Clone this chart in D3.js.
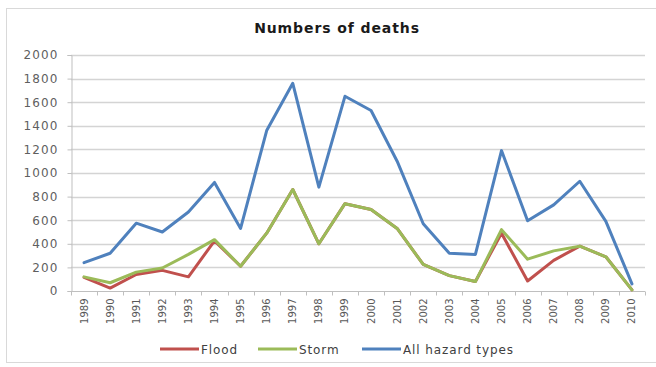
<!DOCTYPE html>
<html>
<head>
<meta charset="utf-8">
<script src="https://cdn.jsdelivr.net/npm/d3@7/dist/d3.min.js"></script>
<style>
  html, body { margin: 0; padding: 0; background: #fff; }
  svg { display: block; }
  text { font-family: "DejaVu Sans", "Open Sans", sans-serif; }
</style>
</head>
<body>
<svg id="chart" width="656" height="367"></svg>
<script>
// Deaths per year by hazard type, 1989–2010
const years = ["1989","1990","1991","1992","1993","1994","1995","1996","1997","1998","1999",
               "2000","2001","2002","2003","2004","2005","2006","2007","2008","2009","2010"];
const flood = [115, 25, 140, 175, 120, 425, 210, 490, 860, 400, 740,
               690, 530, 225, 130, 80, 490, 85, 260, 380, 290, 10];
const storm = [120, 70, 160, 195, 310, 435, 210, 490, 860, 400, 740,
               690, 530, 225, 130, 80, 520, 270, 340, 380, 290, 10];
const allHazards = [240, 320, 575, 500, 670, 920, 530, 1360, 1760, 880, 1650,
                    1530, 1100, 570, 320, 310, 1190, 595, 730, 930, 590, 60];
const yTicks = [0, 200, 400, 600, 800, 1000, 1200, 1400, 1600, 1800, 2000];

const series = [
  { name: "Flood", values: flood, color: "#c0504d" },
  { name: "Storm", values: storm, color: "#9bbb59" },
  { name: "All hazard types", values: allHazards, color: "#4f81bd" }
];

const svg = d3.select("#chart");

// chart area frame
svg.append("rect")
  .attr("x", 6.5).attr("y", 8.5).attr("width", 660).attr("height", 354)
  .attr("fill", "#fff").attr("stroke", "#d9d9d9").attr("stroke-width", 1);

const plot = { left: 71, right: 645, top: 55, bottom: 291 };

const x = d3.scaleBand().domain(years).range([plot.left, plot.right]).padding(0);
const y = d3.scaleLinear().domain([0, 2000]).range([plot.bottom, plot.top]);

// title
svg.append("text")
  .attr("x", 337).attr("y", 33)
  .attr("text-anchor", "middle")
  .attr("font-size", 14).attr("font-weight", "bold").attr("fill", "#1a1a1a")
  .attr("letter-spacing", 0.9)
  .text("Numbers of deaths");

// horizontal gridlines
svg.append("g").selectAll("line").data(yTicks.filter(d => d > 0)).join("line")
  .attr("x1", plot.left).attr("x2", plot.right)
  .attr("y1", d => Math.round(y(d)) + 0.5).attr("y2", d => Math.round(y(d)) + 0.5)
  .attr("stroke", "#d4d4d4").attr("stroke-width", 1.5);

// y axis
const yAxis = svg.append("g")
  .attr("transform", `translate(${plot.left + 0.5},0)`)
  .call(d3.axisLeft(y).tickValues(yTicks).tickFormat(d3.format("d")).tickSize(4).tickPadding(9));
yAxis.select(".domain").attr("stroke", "#bfbfbf");
yAxis.selectAll(".tick line").attr("stroke", "#bfbfbf");
yAxis.selectAll(".tick text").attr("fill", "#5f5f5f").attr("font-size", 12)
  .attr("letter-spacing", 1.1)
  .attr("font-family", "'DejaVu Sans', sans-serif");

// x axis: ticks between categories, labels rotated
const xg = svg.append("g").attr("transform", `translate(0,${plot.bottom + 0.5})`);
xg.append("line")
  .attr("x1", plot.left).attr("x2", plot.right)
  .attr("stroke", "#bfbfbf");
const bounds = years.map(d => x(d)).concat([x(years[years.length - 1]) + x.bandwidth()]);
xg.selectAll("line.tk").data(bounds).join("line").attr("class", "tk")
  .attr("x1", d => Math.round(d) + 0.5).attr("x2", d => Math.round(d) + 0.5)
  .attr("y1", 0).attr("y2", 4)
  .attr("stroke", "#bfbfbf");
xg.selectAll("text").data(years).join("text")
  .attr("transform", d => `translate(${x(d) + x.bandwidth() / 2 + 3.5},${7}) rotate(-90)`)
  .attr("text-anchor", "end")
  .attr("font-size", 10).attr("fill", "#595959")
  .text(d => d);

// series lines
const line = d3.line()
  .x((d, i) => x(years[i]) + x.bandwidth() / 2)
  .y(d => y(d));

svg.append("g").selectAll("path").data(series).join("path")
  .attr("d", s => line(s.values))
  .attr("fill", "none")
  .attr("stroke", s => s.color)
  .attr("stroke-width", 3)
  .attr("stroke-linejoin", "round")
  .attr("stroke-linecap", "round");

// legend
const legendX = [160, 258, 362];
const lg = svg.append("g").selectAll("g").data(series).join("g")
  .attr("transform", (s, i) => `translate(${legendX[i]},349)`);
lg.append("line").attr("x1", 0).attr("x2", 39).attr("y1", 0).attr("y2", 0)
  .attr("stroke", s => s.color).attr("stroke-width", 3);
lg.append("text").attr("x", 41).attr("y", 4.5)
  .attr("font-size", 12).attr("fill", "#404040")
  .attr("letter-spacing", 0.9)
  .text(s => s.name);
</script>
</body>
</html>
